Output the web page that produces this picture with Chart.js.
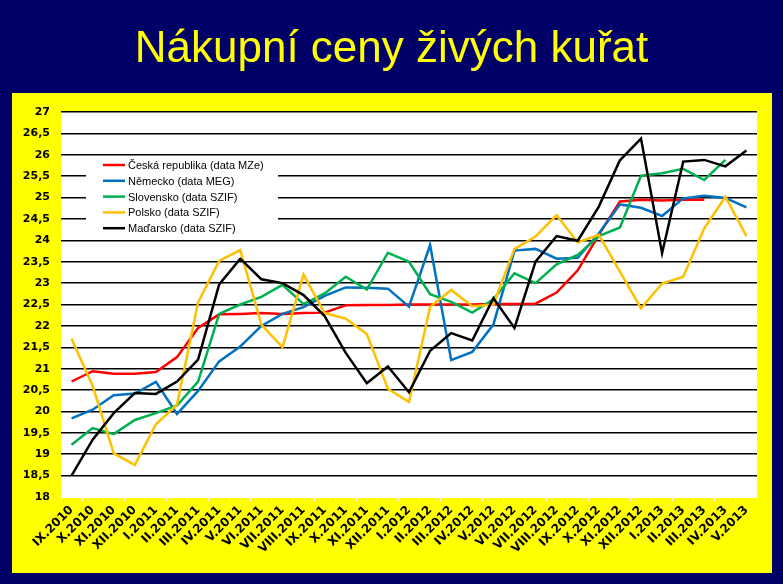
<!DOCTYPE html>
<html>
<head>
<meta charset="utf-8">
<script src="https://cdn.jsdelivr.net/npm/chart.js@4.4.1/dist/chart.umd.min.js"></script>
<style>
  html, body { margin: 0; padding: 0; background: #000066; }
  #wrap { position: relative; width: 783px; height: 584px; }
  #title {
    position: absolute; left: 0; top: 25px; width: 783px; margin: 0;
    text-align: center; color: #ffff00;
    font: normal 44px/44px "Liberation Sans", Arial, sans-serif;
  }
</style>
</head>
<body>
<div id="wrap">
  <canvas id="chart" width="783" height="584"></canvas>
  <h1 id="title">Nákupní ceny živých kuřat</h1>
</div>
<script>
const months = ["IX.2010", "X.2010", "XI.2010", "XII.2010", "I.2011", "II.2011", "III.2011", "IV.2011",
  "V.2011", "VI.2011", "VII.2011", "VIII.2011", "IX.2011", "X.2011", "XI.2011", "XII.2011",
  "I.2012", "II.2012", "III.2012", "IV.2012", "V.2012", "VI.2012", "VII.2012", "VIII.2012",
  "IX.2012", "X.2012", "XI.2012", "XII.2012", "I.2013", "II.2013", "III.2013", "IV.2013", "V.2013"];

const czech = [20.70, 20.94, 20.88, 20.88, 20.92, 21.27, 21.95, 22.27, 22.28, 22.30, 22.28, 22.30, 22.31,
  22.48, 22.49, 22.49, 22.50, 22.50, 22.50, 22.50, 22.51, 22.51, 22.52,
  22.78, 23.30, 24.13, 24.91, 24.95, 24.93, 24.95, 24.95, null, null];
const germany = [19.84, 20.04, 20.38, 20.42, 20.69, 19.94, 20.48, 21.17, 21.52, 22.00,
  22.28, 22.44, 22.70, 22.90, 22.89, 22.87, 22.45, 23.89, 21.20, 21.39,
  22.03, 23.76, 23.80, 23.57, 23.59, 24.16, 24.84, 24.76, 24.57, 24.98, 25.04, 24.99, 24.77];
const slovakia = [19.22, 19.61, 19.47, 19.80, 19.96, 20.14, 20.70, 22.28, 22.50, 22.68,
  22.96, 22.51, 22.76, 23.15, 22.85, 23.71, 23.50, 22.74, 22.56, 22.31,
  22.62, 23.23, 23.00, 23.44, 23.66, 24.10, 24.30, 25.51, 25.57, 25.67, 25.41, 25.88, null];
const poland = [21.70, 20.60, 19.02, 18.75, 19.70, 20.16, 22.55, 23.52, 23.77, 22.03,
  21.50, 23.20, 22.30, 22.17, 21.81, 20.53, 20.22, 22.44, 22.84, 22.46,
  22.50, 23.80, 24.09, 24.59, 23.95, 24.13, 23.27, 22.41, 22.99, 23.15, 24.28, 25.02, 24.10];
const hungary = [18.50, 19.34, 19.96, 20.43, 20.41, 20.70, 21.21, 22.97, 23.57, 23.09,
  23.00, 22.72, 22.23, 21.37, 20.66, 21.05, 20.45, 21.42, 21.83, 21.66,
  22.65, 21.95, 23.50, 24.10, 23.99, 24.79, 25.87, 26.38, 23.70, 25.84, 25.88, 25.73, 26.10];

const seriesNames = ["Česká republika (data MZe)", "Německo (data MEG)", "Slovensko (data SZIF)",
  "Polsko (data SZIF)", "Maďarsko (data SZIF)"];
const seriesColors = ["#ff0000", "#0070c0", "#00b050", "#ffc000", "#000000"];
const seriesValues = [czech, germany, slovakia, poland, hungary];

// navy page, yellow frame, white plot area
const backgroundPlugin = {
  id: "background",
  beforeDraw(chart) {
    const { ctx, chartArea } = chart;
    ctx.save();
    ctx.fillStyle = "#000066";
    ctx.fillRect(0, 0, chart.width, chart.height);
    ctx.fillStyle = "#ffff00";
    ctx.fillRect(12, 93, 760, 480);
    ctx.fillStyle = "#ffffff";
    ctx.fillRect(chartArea.left, chartArea.top, chartArea.right - chartArea.left, chartArea.bottom - chartArea.top + 1);
    ctx.restore();
  }
};

// legend box sitting inside the plot, drawn over the gridlines
const insideLegend = {
  id: "insideLegend",
  beforeDatasetsDraw(chart) {
    const { ctx } = chart;
    ctx.save();
    ctx.fillStyle = "#ffffff";
    ctx.fillRect(86, 157, 192, 79);
    ctx.font = "11px 'Liberation Sans', Arial, sans-serif";
    ctx.textBaseline = "middle";
    chart.data.datasets.forEach((ds, i) => {
      const y = 165 + i * 15.8;
      ctx.strokeStyle = ds.borderColor;
      ctx.lineWidth = 2.5;
      ctx.beginPath();
      ctx.moveTo(103, y);
      ctx.lineTo(125, y);
      ctx.stroke();
      ctx.fillStyle = "#000000";
      ctx.fillText(ds.label, 128, y + 1);
    });
    ctx.restore();
  }
};

const ctx = document.getElementById("chart").getContext("2d");
new Chart(ctx, {
  type: "line",
  data: {
    labels: months,
    datasets: seriesValues.map((values, i) => ({
      label: seriesNames[i],
      data: values,
      borderColor: seriesColors[i],
      backgroundColor: seriesColors[i],
      borderWidth: 2.5,
      pointRadius: 0,
      tension: 0,
      fill: false,
      order: seriesValues.length - i
    }))
  },
  options: {
    responsive: false,
    animation: false,
    layout: { padding: { left: 12, right: 26, top: 112, bottom: 11 } },
    plugins: {
      legend: { display: false },
      tooltip: { enabled: false },
      title: { display: false }
    },
    scales: {
      x: {
        offset: true,
        grid: { display: true, drawOnChartArea: false, drawTicks: true, tickLength: 4, color: "#ffffff", offset: true },
        border: { display: false },
        ticks: {
          autoSkip: false,
          maxRotation: 45,
          minRotation: 45,
          padding: 2,
          color: "#000000",
          font: { family: "'DejaVu Sans', Verdana, sans-serif", size: 12, weight: "bold" }
        },
        afterFit(axis) { axis.height = 76; }
      },
      y: {
        min: 18,
        max: 27,
        grid: {
          drawTicks: false,
          lineWidth: 1.5,
          color: (c) => (c.tick && c.tick.value === 18 ? "rgba(0,0,0,0)" : "#000000")
        },
        border: { display: false },
        ticks: {
          stepSize: 0.5,
          padding: 11,
          color: "#000000",
          font: { family: "'DejaVu Sans', Verdana, sans-serif", size: 11, weight: "bold" },
          callback: (v) => (Number.isInteger(v) ? String(v) : v.toFixed(1).replace(".", ","))
        },
        afterFit(axis) { axis.width = 49; }
      }
    }
  },
  plugins: [backgroundPlugin, insideLegend]
});
</script>
</body>
</html>
